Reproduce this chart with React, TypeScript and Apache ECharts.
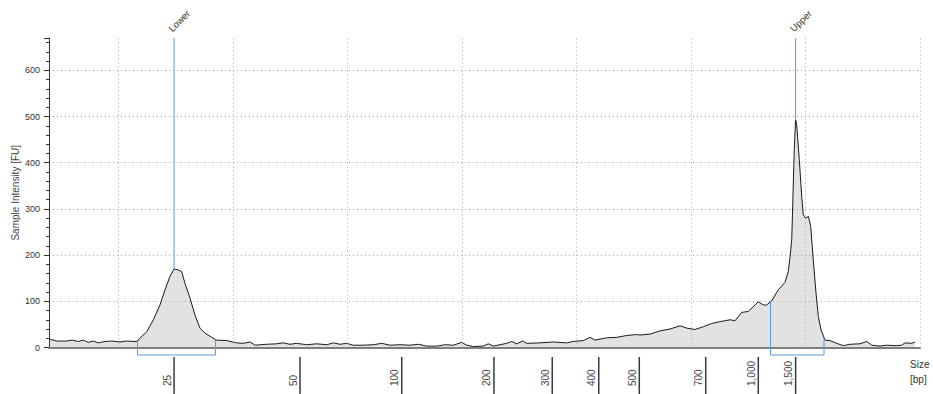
import React, { useEffect, useRef } from "react";
import * as echarts from "echarts";

// migration time (s) and fluorescence (FU)
const times = [
  44.04, 44.62, 45.5, 45.98, 46.51, 46.94, 47.38, 47.82, 48.25, 48.84, 49.42, 50.15, 50.73, 51.46, 51.68, 51.8,
  52.48, 53.06, 53.64, 54.08, 54.51, 54.87, 55.24, 55.54, 55.82, 56.26, 56.7, 57.13, 57.57, 58.16, 58.59,
  59.47, 60.34, 60.92, 61.5, 61.94, 62.96, 63.83, 64.41, 64.99, 65.58, 66.45, 67.32, 68.2, 68.77, 69.36,
  69.94, 70.52, 71.39, 72.27, 73.0, 73.72, 74.6, 75.47, 76.2, 76.93, 77.8, 78.53, 79.25, 79.98, 80.42,
  81.0, 81.87, 82.31, 82.74, 83.33, 83.91, 84.35, 84.79, 85.31, 85.66, 86.82, 87.98, 89.15, 89.73, 90.6,
  91.19, 91.62, 92.64, 93.52, 94.39, 95.26, 95.55, 96.43, 97.3, 98.17, 99.05, 99.63, 100.35, 101.08,
  101.81, 102.54, 103.41, 103.85, 104.43, 105.01, 105.88, 106.32, 106.61, 107.05, 107.63, 108.21, 108.5,
  108.65, 108.8, 108.94, 109.02, 109.14, 109.23, 109.46, 109.67, 109.81, 110.02, 110.25, 110.46, 110.68,
  110.92, 111.12, 111.36, 111.71, 112.14, 112.73, 113.3, 113.89, 114.76, 115.35, 115.78, 116.51, 117.09,
  117.82, 118.4, 118.69, 119.28, 119.56,
];
const intensities = [
  18, 14, 14, 16, 13, 16, 11, 14, 10, 13, 14, 12, 14, 13, 14, 18,
  34, 60, 92, 125, 154, 170, 168, 164, 139, 107, 70, 42, 31, 22, 16,
  15, 10, 9, 12, 5, 7, 8, 10, 7, 9, 6, 8, 6, 10, 7,
  9, 5, 5, 6, 9, 5, 6, 5, 7, 3, 3, 6, 5, 11, 5,
  2, 3, 8, 3, 6, 9, 13, 8, 14, 9, 10, 12, 10, 13, 15,
  22, 16, 21, 22, 26, 28, 27, 29, 36, 40, 47, 42, 39, 45,
  52, 56, 60, 58, 76, 78, 99, 92, 92, 101, 125, 141, 165,
  195, 233, 356, 428, 493, 483, 407, 327, 287, 280, 284, 262, 190,
  118, 67, 38, 16, 15, 9, 4, 7, 8, 13, 5, 3, 5,
  4, 5, 10, 9, 12,
];

// size ladder (bp) positions on the time axis
const ladderTimes = [54.87, 65.87, 74.75, 82.8, 87.89, 91.95, 95.49, 101.29, 105.88, 109.14];
const ladderLabels = ["25", "50", "100", "200", "300", "400", "500", "700", "1,000", "1,500"];

// markers
const markerNames = ["Lower", "Upper"];
const markerTimes = [54.87, 109.14];
const markerPeaks = [170, 493];
const bracketStarts = [51.68, 106.95];
const bracketEnds = [58.49, 111.62];
const bracketStartLevels = [14, 100];
const bracketEndLevels = [17, 20];

// axes
const gridTimes = [50, 60, 70, 80, 90, 100, 110, 120];
const xMin = 43.95;
const xMax = 120;
const yMax = 670;
const yInterval = 100;

const FONT = "Liberation Sans";
const BLUE = "#5b9bd5";

export default function App() {
  const ref = useRef<HTMLDivElement>(null);

  useEffect(() => {
    if (!ref.current) return;
    const chart = echarts.init(ref.current, undefined, { renderer: "svg" });

    const curve = times.map((t, i) => [t, intensities[i]]);
    const markers = markerTimes.map((t, i) => [t, markerPeaks[i]]);
    const brackets = bracketStarts.map((s, i) => [s, bracketEnds[i], bracketStartLevels[i], bracketEndLevels[i]]);
    const ladder = ladderTimes.map((t) => [t, 0]);

    chart.setOption({
      animation: false,
      backgroundColor: "#ffffff",
      textStyle: { fontFamily: FONT },
      grid: [
        { left: 49, right: 13, top: 38, bottom: 46.5, outerBoundsMode: "none", containLabel: false },
        { left: 49, right: 13, top: 357, height: 37, outerBoundsMode: "none", containLabel: false },
      ],
      xAxis: [
        {
          type: "value",
          gridIndex: 0,
          min: xMin,
          max: xMax,
          position: "bottom",
          axisLine: { show: true, onZero: false, lineStyle: { color: "#7f7f7f", width: 2 } },
          axisTick: { show: false },
          axisLabel: { show: false },
          splitLine: { show: false },
        },
        {
          type: "value",
          gridIndex: 1,
          min: xMin,
          max: xMax,
          position: "top",
          name: "Size\n[bp]",
          nameLocation: "end",
          nameGap: -10,
          nameTextStyle: {
            fontFamily: FONT,
            fontSize: 10,
            color: "#333",
            align: "left",
            verticalAlign: "top",
            lineHeight: 15,
          },
          axisLine: { show: false, onZero: false },
          axisTick: { show: false },
          axisLabel: { show: false },
          splitLine: { show: false },
        },
      ],
      yAxis: [
        {
          type: "value",
          gridIndex: 0,
          min: 0,
          max: yMax,
          interval: yInterval,
          name: "Sample Intensity [FU]",
          nameLocation: "middle",
          nameGap: 29,
          nameMoveOverlap: false,
          nameTextStyle: { fontFamily: FONT, fontSize: 10, color: "#444" },
          axisLine: { show: true, lineStyle: { color: "#333", width: 1 } },
          axisTick: { show: true, length: 5, lineStyle: { color: "#333" } },
          minorTick: { show: true, splitNumber: 5, length: 3, lineStyle: { color: "#333" } },
          axisLabel: {
            fontFamily: FONT,
            fontSize: 9,
            color: "#333",
            margin: 9,
            formatter: (v: number) => (v % yInterval === 0 ? String(v) : ""),
          },
          splitLine: {
            show: true,
            showMaxLine: false,
            showMinLine: false,
            lineStyle: { color: "#a8a8a8", type: [1, 3], width: 1 },
          },
        },
        {
          type: "value",
          gridIndex: 1,
          min: 0,
          max: 1,
          show: false,
        },
      ],
      series: [
        {
          type: "line",
          xAxisIndex: 0,
          yAxisIndex: 0,
          data: curve,
          showSymbol: false,
          symbol: "none",
          lineStyle: { color: "#1a1a1a", width: 1 },
          areaStyle: { color: "rgba(128,128,128,0.33)" },
          markLine: {
            silent: true,
            symbol: "none",
            label: { show: false },
            lineStyle: { color: "#a8a8a8", type: [1, 3], width: 1 },
            data: gridTimes.map((v) => ({ xAxis: v })),
          },
          z: 2,
        },
        {
          type: "custom",
          xAxisIndex: 0,
          yAxisIndex: 0,
          data: brackets,
          encode: { x: [0, 1], y: [2, 3] },
          clip: false,
          z: 4,
          renderItem: (params: any, api: any) => {
            const s = api.coord([api.value(0), api.value(2)]);
            const e = api.coord([api.value(1), api.value(3)]);
            const base = api.coord([api.value(0), 0])[1] + 7.5;
            return {
              type: "polyline",
              shape: { points: [s, [s[0], base], [e[0], base], e] },
              style: { stroke: BLUE, fill: "none", lineWidth: 1 },
            };
          },
        },
        {
          type: "custom",
          xAxisIndex: 0,
          yAxisIndex: 0,
          data: markers,
          encode: { x: 0, y: 1 },
          clip: false,
          z: 5,
          renderItem: (params: any, api: any) => {
            const p = api.coord([api.value(0), api.value(1)]);
            const top = params.coordSys.y;
            return {
              type: "group",
              children: [
                {
                  type: "line",
                  shape: { x1: p[0], y1: top, x2: p[0], y2: p[1] },
                  style: { stroke: BLUE, lineWidth: 1 },
                },
                {
                  type: "text",
                  x: p[0] - 4,
                  y: top - 8,
                  rotation: Math.PI / 4,
                  style: {
                    text: markerNames[params.dataIndex],
                    fill: "#333",
                    fontSize: 9.5,
                    fontFamily: FONT,
                    align: "left",
                    verticalAlign: "middle",
                  },
                },
              ],
            };
          },
        },
        {
          type: "custom",
          xAxisIndex: 1,
          yAxisIndex: 1,
          data: ladder,
          encode: { x: 0, y: 1 },
          clip: false,
          renderItem: (params: any, api: any) => {
            const x = api.coord([api.value(0), 0])[0];
            const top = params.coordSys.y;
            const bottom = params.coordSys.y + params.coordSys.height;
            return {
              type: "group",
              children: [
                {
                  type: "line",
                  shape: { x1: x, y1: top, x2: x, y2: bottom },
                  style: { stroke: "#3a3a3a", lineWidth: 1.5 },
                },
                {
                  type: "text",
                  x: x - 2,
                  y: bottom - 8,
                  rotation: Math.PI / 2,
                  style: {
                    text: ladderLabels[params.dataIndex],
                    fill: "#444",
                    fontSize: 10,
                    fontFamily: FONT,
                    align: "left",
                    verticalAlign: "bottom",
                  },
                },
              ],
            };
          },
        },
      ],
    });

    return () => chart.dispose();
  }, []);

  return (
    <div
      ref={ref}
      style={{ position: "fixed", left: 0, top: 0, width: 933, height: 394, background: "#fff" }}
    />
  );
}
